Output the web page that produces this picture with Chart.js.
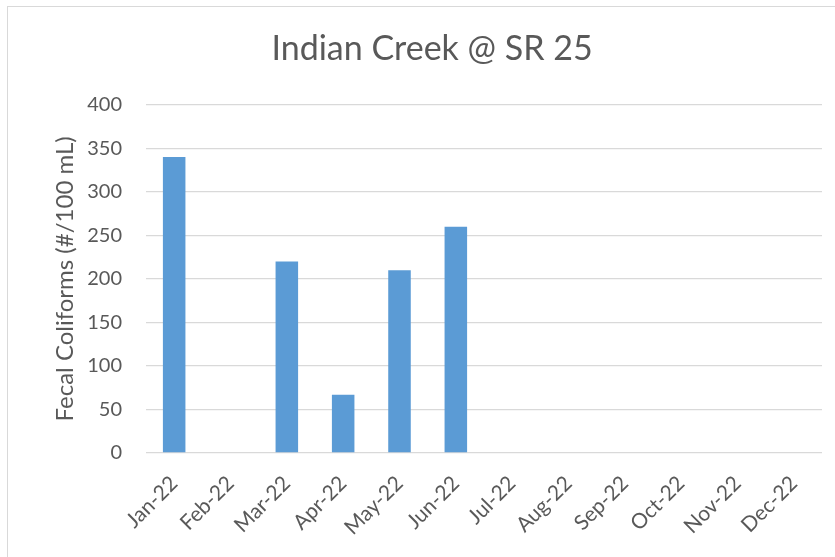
<!DOCTYPE html>
<html><head><meta charset="utf-8">
<script src="https://cdn.jsdelivr.net/npm/chart.js@4/dist/chart.umd.min.js"></script>
<style>
html,body{margin:0;padding:0;background:#fff;}
#wrap{position:relative;width:835px;height:557px;overflow:hidden;}
#frame{position:absolute;left:7px;top:6px;width:840px;height:560px;border:1px solid #d9d9d9;box-sizing:border-box;}
canvas{position:absolute;left:0;top:0;}
</style></head>
<body><div id="wrap"><div id="frame"></div><canvas id="c" width="835" height="557"></canvas></div>
<script>
const categories = ["Jan-22","Feb-22","Mar-22","Apr-22","May-22","Jun-22","Jul-22","Aug-22","Sep-22","Oct-22","Nov-22","Dec-22"];
const coliforms = [340, null, 220, 67, 210, 260, null, null, null, null, null, null];
const yTicks = [0,50,100,150,200,250,300,350,400];
const titleText = "Indian Creek @ SR 25";
const yTitle = "Fecal Coliforms (#/100 mL)";

const txt = '#595959';
new Chart(document.getElementById('c'), {
  type: 'bar',
  data: { labels: categories, datasets: [{ data: coliforms, backgroundColor: '#5b9bd5', borderWidth: 0, categoryPercentage: 0.8, barPercentage: 0.5 }] },
  options: {
    responsive: false, animation: false,
    layout: { padding: { left: 42, right: 13, top: 0, bottom: 0 } },
    plugins: {
      legend: { display: false }, tooltip: { enabled: false },
      title: { display: true, text: titleText, color: txt, font: { family: 'Lato', size: 34, weight: 'normal', lineHeight: 1.2 }, padding: { top: 29, bottom: 35 } }
    },
    scales: {
      x: {
        grid: { display: false }, border: { display: false },
        afterFit: (s) => { s.height = 104; },
        ticks: { color: txt, font: { family: 'Lato', size: 21 }, maxRotation: 45, minRotation: 45, padding: 10 }
      },
      y: {
        min: 0, max: 400,
        afterBuildTicks: (s) => { s.ticks = yTicks.map(v => ({ value: v })); },
        afterFit: (s) => { s.width = 104; },
        grid: { color: '#d9d9d9', lineWidth: 1.3, drawTicks: false }, border: { display: false },
        ticks: { color: txt, font: { family: 'Lato', size: 20 }, padding: 24 },
        title: { display: true, text: yTitle, color: txt, font: { family: 'Lato', size: 24, lineHeight: 1.2 }, padding: { top: 9, bottom: 0 } }
      }
    }
  }
});
</script></body></html>
